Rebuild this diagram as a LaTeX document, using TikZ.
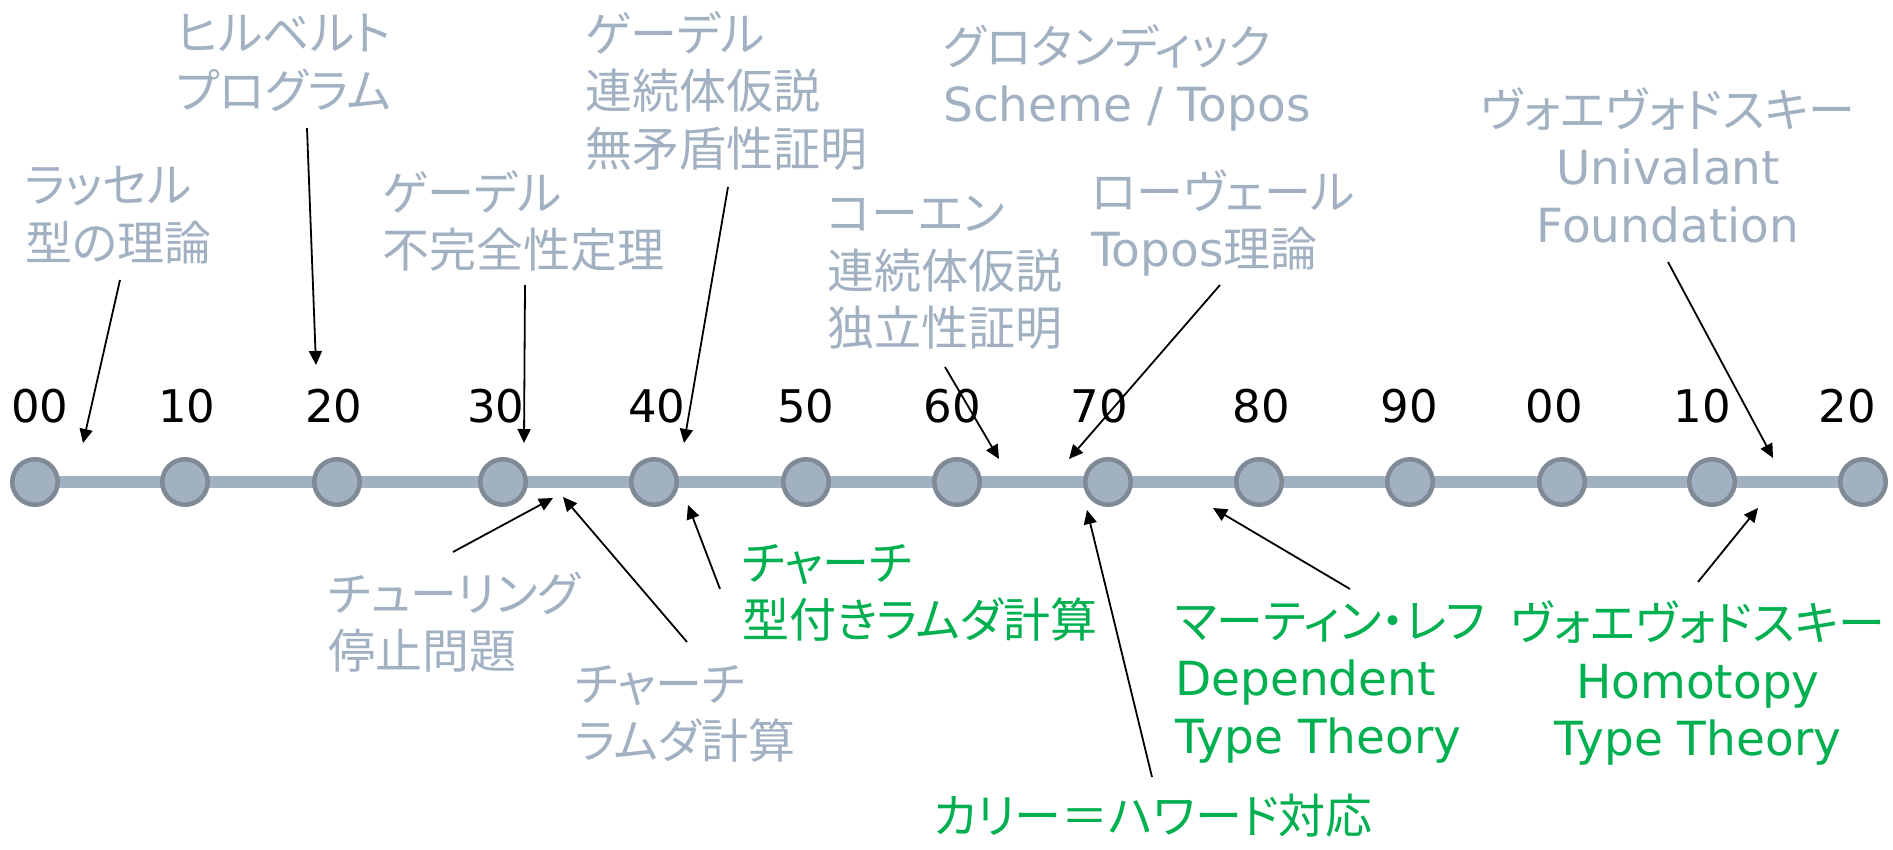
\documentclass[tikz,border=0pt]{standalone}
\usepackage{fontspec}
\setmainfont{DejaVu Sans}
\newfontfamily\jp[RawFeature=+palt]{Noto Sans CJK JP}
\usetikzlibrary{arrows.meta}
\definecolor{txtgray}{HTML}{A2B1C2}
\definecolor{txtgreen}{HTML}{00B050}
\definecolor{dotfill}{HTML}{A2B1C1}
\definecolor{dotline}{HTML}{7F8A96}
\definecolor{tlcolor}{HTML}{A2B1C1}
\newcommand\latn[1]{{\rmfamily #1}}
\begin{document}
\begin{tikzpicture}[x=1pt,y=-1pt,
  dot/.style={circle, draw=dotline, fill=dotfill, line width=4.5pt, minimum size=45.5pt, inner sep=0pt},
  tline/.style={draw=tlcolor, line width=12pt},
  yr/.style={inner sep=0pt, font=\rmfamily\fontsize{45}{54}\selectfont, text=black},
  lbl/.style={inner sep=0pt, anchor=west, align=left, font=\jp\fontsize{47}{57.5}\selectfont, text=txtgray},
  lblc/.style={lbl, anchor=center, align=center},
  grn/.style={text=txtgreen},
  ptr/.style={draw=black, line width=1.8pt, -{Triangle[length=14pt,width=13pt]}}
]
\useasboundingbox (0,0) rectangle (1893,850);

% timeline
\foreach \i/\x in {0/35,1/185,2/337,3/503,4/654,5/806,6/957,7/1108,8/1259,9/1410,10/1562,11/1712,12/1863}
  \coordinate (p\i) at (\x,482);
\draw[tline] (p0) -- (p12);
\foreach \i in {0,...,12} \node[dot] (c\i) at (p\i) {};
\foreach \i/\x/\t in {0/40/00,1/187/10,2/334/20,3/496/30,4/657/40,5/806/50,6/952/60,7/1099/70,8/1261/80,9/1409/90,10/1554/00,11/1702/10,12/1847/20}
  \node[yr] (y\i) at (\x,406) {\t};

% labels above
\node[lbl] (russell) at (25,215) {ラッセル\\型の理論};
\node[lbl] (hilbert) at (176,63) {ヒルベルト\\プログラム};
\node[lbl] (goedelA) at (382,221) {ゲーデル\\不完全性定理};
\node[lbl] (goedelB) at (585,91) {ゲーデル\\連続体仮説\\無矛盾性証明};
\node[lbl] (groth) at (943,78) {グロタンディック\\\latn{Scheme / Topos}};
\node[lbl] (cohen) at (827,273) {コーエン\\連続体仮説\\独立性証明};
\node[lbl] (lawvere) at (1091,223) {ローヴェール\\\latn{Topos}理論};
\node[lblc] (voeA) at (1668,165) {ヴォエヴォドスキー\\\latn{Univalant}\\\latn{Foundation}};

% labels below
\node[lbl] (turing) at (328,622) {チューリング\\停止問題};
\node[lbl] (churchA) at (575,714) {チャーチ\\ラムダ計算};
\node[lbl,grn] (churchB) at (742,593) {チャーチ\\型付きラムダ計算};
\node[lbl,grn] (curry) at (933,816) {カリー＝ハワード対応};
\node[lbl,grn] (martin) at (1175,683) {マーティン・レフ\\\latn{Dependent}\\\latn{Type Theory}};
\node[lblc,grn] (voeB) at (1698,683) {ヴォエヴォドスキー\\\latn{Homotopy}\\\latn{Type Theory}};

% arrow ends
\coordinate (t1) at (120,280);  \coordinate (h1) at (83,443);
\coordinate (t2) at (307,128);  \coordinate (h2) at (316,365);
\coordinate (t3) at (525,285);  \coordinate (h3) at (524,443);
\coordinate (t4) at (728,187);  \coordinate (h4) at (684,443);
\coordinate (t5) at (945,367);  \coordinate (h5) at (999,459);
\coordinate (t6) at (1220,285); \coordinate (h6) at (1069,459);
\coordinate (t7) at (1668,262); \coordinate (h7) at (1773,458);
\coordinate (t8) at (453,552);  \coordinate (h8) at (553,498);
\coordinate (t9) at (687,642);  \coordinate (h9) at (563,497);
\coordinate (t10) at (720,589); \coordinate (h10) at (688,505);
\coordinate (t11) at (1152,777); \coordinate (h11) at (1087,510);
\coordinate (t12) at (1350,589); \coordinate (h12) at (1213,508);
\coordinate (t13) at (1698,582); \coordinate (h13) at (1758,508);
\foreach \k in {1,...,13} \draw[ptr] (t\k) -- (h\k);
\end{tikzpicture}
\end{document}
